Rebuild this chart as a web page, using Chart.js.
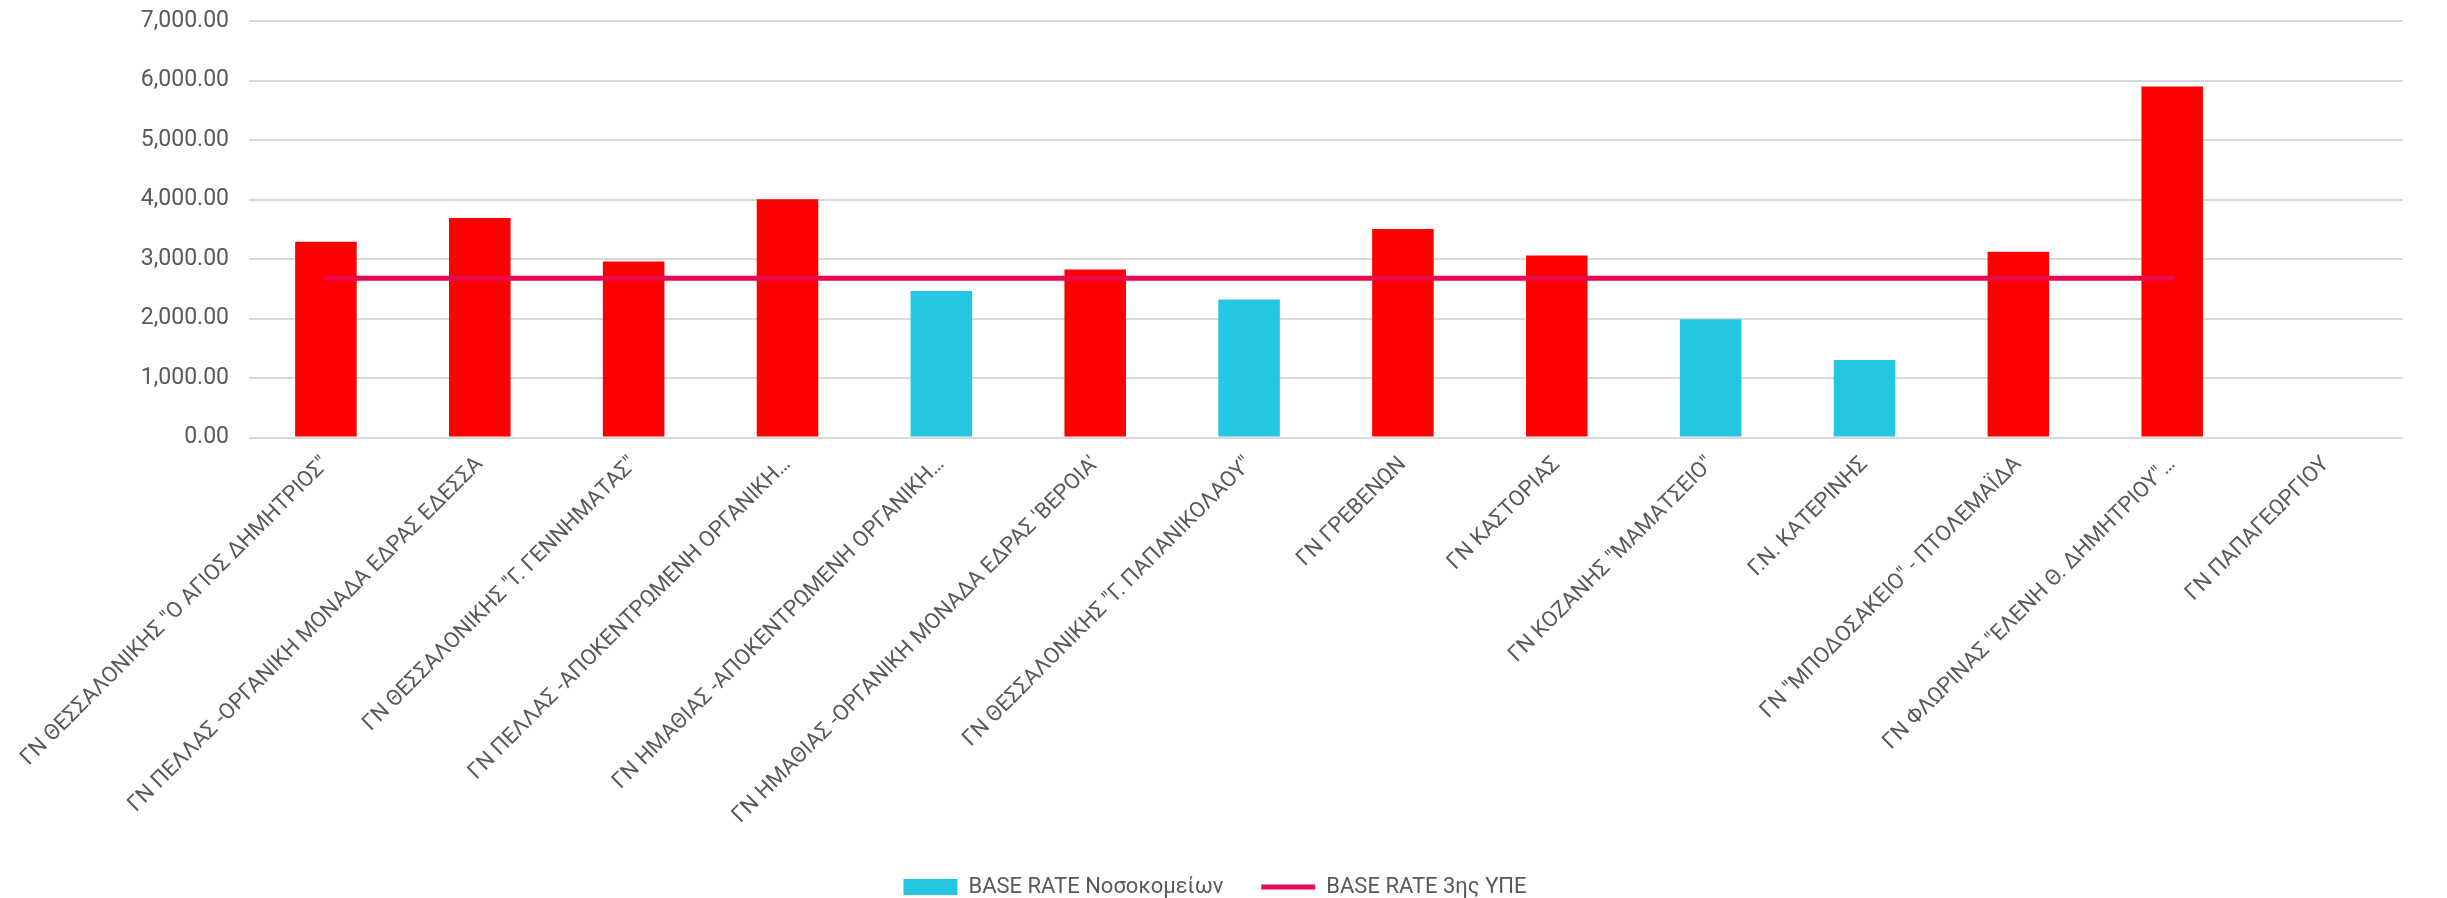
<!DOCTYPE html>
<html>
<head>
<meta charset="utf-8">
<script src="https://cdn.jsdelivr.net/npm/chart.js@4.4.1/dist/chart.umd.min.js"></script>
<style>
  html, body { margin: 0; padding: 0; background: #fff; }
  #wrap { width: 2447px; height: 898px; }
</style>
</head>
<body>
<div id="wrap"><canvas id="baseRateChart"></canvas></div>
<script>
const hospitals = [
    'ΓΝ ΘΕΣΣΑΛΟΝΙΚΗΣ "Ο ΑΓΙΟΣ ΔΗΜΗΤΡΙΟΣ"',
    'ΓΝ ΠΕΛΛΑΣ -ΟΡΓΑΝΙΚΗ ΜΟΝΑΔΑ ΕΔΡΑΣ ΕΔΕΣΣΑ',
    'ΓΝ ΘΕΣΣΑΛΟΝΙΚΗΣ "Γ. ΓΕΝΝΗΜΑΤΑΣ"',
    'ΓΝ ΠΕΛΛΑΣ -ΑΠΟΚΕΝΤΡΩΜΕΝΗ ΟΡΓΑΝΙΚΗ…',
    'ΓΝ ΗΜΑΘΙΑΣ -ΑΠΟΚΕΝΤΡΩΜΕΝΗ ΟΡΓΑΝΙΚΗ…',
    "ΓΝ ΗΜΑΘΙΑΣ -ΟΡΓΑΝΙΚΗ ΜΟΝΑΔΑ ΕΔΡΑΣ 'ΒΕΡΟΙΑ'",
    'ΓΝ ΘΕΣΣΑΛΟΝΙΚΗΣ "Γ. ΠΑΠΑΝΙΚΟΛΑΟΥ"',
    'ΓΝ ΓΡΕΒΕΝΩΝ',
    'ΓΝ ΚΑΣΤΟΡΙΑΣ',
    'ΓΝ ΚΟΖΑΝΗΣ "ΜΑΜΑΤΣΕΙΟ"',
    'Γ.Ν. ΚΑΤΕΡΙΝΗΣ',
    'ΓΝ "ΜΠΟΔΟΣΑΚΕΙΟ" - ΠΤΟΛΕΜΑΪΔΑ',
    'ΓΝ ΦΛΩΡΙΝΑΣ "ΕΛΕΝΗ Θ. ΔΗΜΗΤΡΙΟΥ"…',
    'ΓΝ ΠΑΠΑΓΕΩΡΓΙΟΥ'
];
const hospitalRates = [3290, 3690, 2960, 4005, 2465, 2825, 2320, 3505, 3060, 1990, 1305, 3125, 5900, null];
const regionRates = [2680, 2680, 2680, 2680, 2680, 2680, 2680, 2680, 2680, 2680, 2680, 2680, 2680, null];
const yTicks = [0, 1000, 2000, 3000, 4000, 5000, 6000, 7000];

const FONT = 'Roboto, "Noto Sans", sans-serif';
const GREY = '#595959';
const CYAN = '#25C6E2';
const RED = '#FF0000';
const PINK = '#E8094F';

// bars above the region rate are red, the rest cyan
const barColors = hospitalRates.map((v, i) => (v > regionRates[i] ? RED : CYAN));

document.addEventListener('DOMContentLoaded', () => {
    const ctx = document.getElementById('baseRateChart').getContext('2d');
    const defaultLabels = Chart.defaults.plugins.legend.labels.generateLabels;

    new Chart(ctx, {
        type: 'bar',
        data: {
            labels: hospitals,
            datasets: [{
                type: 'line',
                label: 'BASE RATE 3ης ΥΠΕ',
                data: regionRates,
                borderColor: PINK,
                backgroundColor: PINK,
                borderWidth: 5,
                borderCapStyle: 'round',
                pointRadius: 0,
                pointStyle: 'line',
                order: 0
            }, {
                label: 'BASE RATE Νοσοκομείων',
                data: hospitalRates,
                backgroundColor: barColors,
                borderWidth: 0,
                pointStyle: 'rect',
                categoryPercentage: 1,
                barPercentage: 0.4,
                order: 1
            }]
        },
        options: {
            responsive: true,
            maintainAspectRatio: false,
            animation: false,
            layout: { padding: { top: 0, right: 44, left: 27, bottom: -10 } },
            scales: {
                x: {
                    grid: { display: false },
                    border: { display: false },
                    afterFit: (axis) => { axis.height += 3; },
                    ticks: {
                        color: GREY,
                        font: { family: FONT, size: 22 },
                        maxRotation: 45,
                        minRotation: 45,
                        autoSkip: false,
                        padding: 6
                    }
                },
                y: {
                    min: 0,
                    max: 7000,
                    afterBuildTicks: (axis) => { axis.ticks = yTicks.map(v => ({ value: v })); },
                    afterFit: (axis) => { axis.width = 222; },
                    grid: { color: '#D9D9D9', lineWidth: 2, drawTicks: false },
                    border: { display: false },
                    ticks: {
                        color: GREY,
                        padding: 20,
                        font: { family: FONT, size: 23, lineHeight: 0.1 },
                        callback: (v) => Number(v).toLocaleString('en-US', { minimumFractionDigits: 2, maximumFractionDigits: 2 })
                    }
                }
            },
            plugins: {
                legend: {
                    position: 'bottom',
                    reverse: true,
                    labels: {
                        color: GREY,
                        usePointStyle: true,
                        pointStyleWidth: 54,
                        boxHeight: 16,
                        padding: 38,
                        font: { family: FONT, size: 22 },
                        generateLabels: (chart) => defaultLabels(chart).map(item => {
                            if (item.datasetIndex === 1) {
                                item.fillStyle = CYAN;
                                item.strokeStyle = CYAN;
                            }
                            return item;
                        })
                    }
                },
                tooltip: { enabled: false }
            }
        }
    });
});
</script>
</body>
</html>
